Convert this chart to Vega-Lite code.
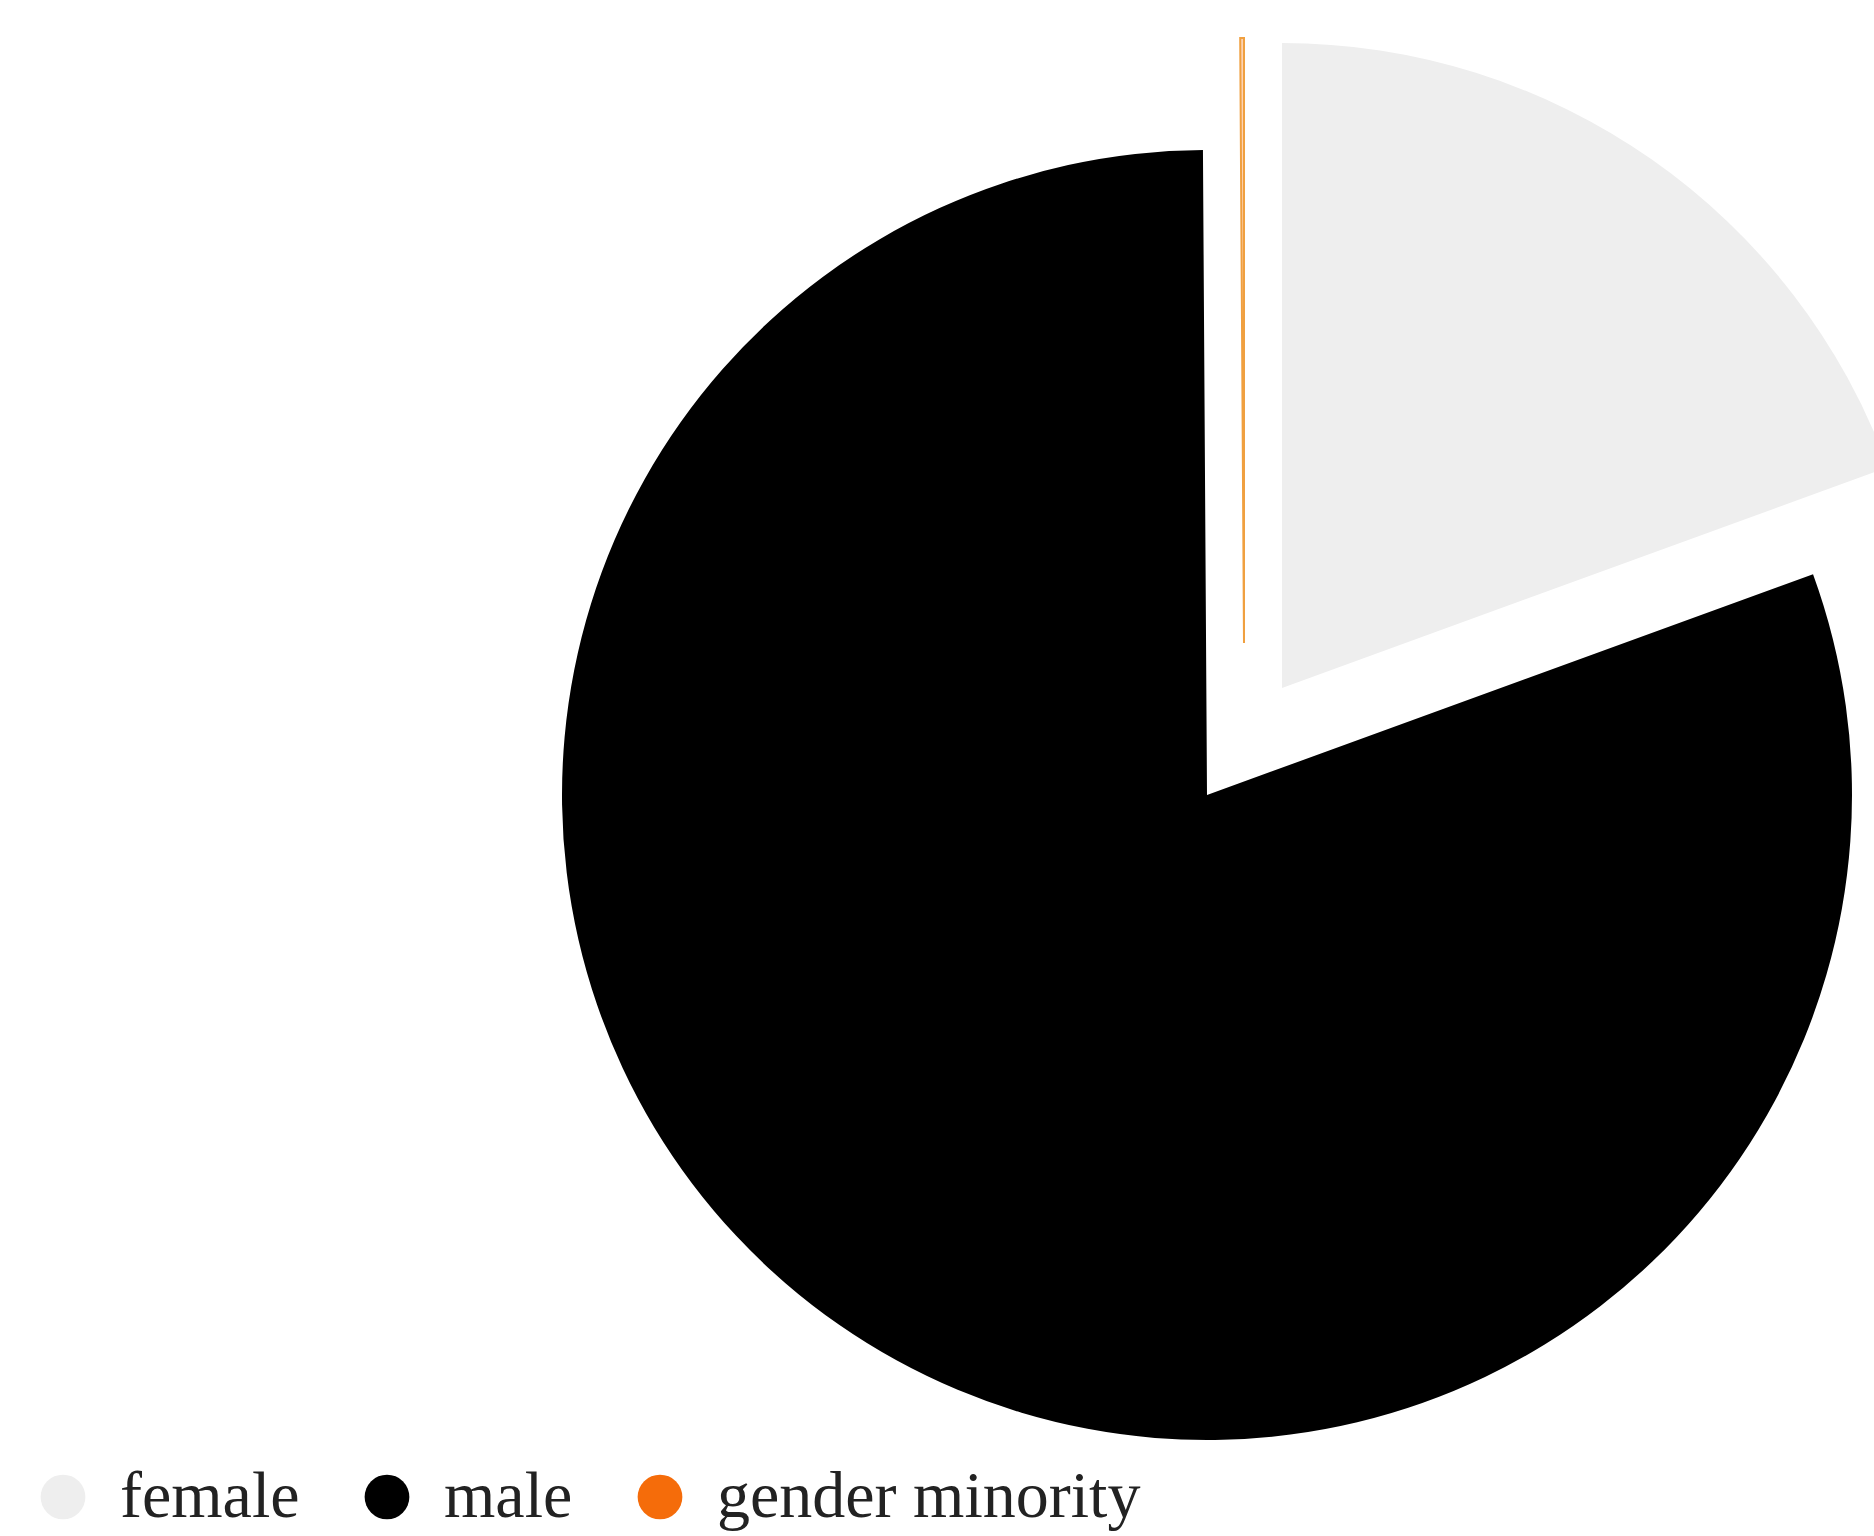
{
  "$schema": "https://vega.github.io/schema/vega-lite/v6.json",
  "width": 1334,
  "height": 1482,
  "padding": {"left": 540, "top": 54, "right": 0, "bottom": 0},
  "autosize": {"type": "none"},
  "background": "white",
  "config": {"view": {"stroke": null}},
  "data": {
    "values": [
      {"gender": "female", "share": 19.44, "order": 1},
      {"gender": "male", "share": 80.46, "order": 2},
      {"gender": "gender minority", "share": 0.1, "order": 3}
    ]
  },
  "transform": [
    {"stack": "share", "groupby": [], "sort": [{"field": "order", "order": "ascending"}], "as": ["s0", "s1"]}
  ],
  "encoding": {
    "theta": {"field": "s0", "type": "quantitative", "scale": {"domain": [0, 100]}},
    "theta2": {"field": "s1"},
    "color": {
      "field": "gender",
      "type": "nominal",
      "scale": {"domain": ["female", "male", "gender minority"], "range": ["#eeeeee", "#000000", "#f56c0a"]},
      "legend": {
        "title": null,
        "orient": "none",
        "direction": "horizontal",
        "legendX": -510,
        "legendY": 1410,
        "symbolType": "circle",
        "symbolSize": 2000,
        "symbolStrokeWidth": 0,
        "labelFont": "Liberation Serif",
        "labelFontSize": 66,
        "labelColor": "#222222",
        "labelOffset": 24,
        "columnPadding": 54,
        "labelLimit": 800
      }
    }
  },
  "layer": [
    {
      "transform": [{"filter": "datum.gender === 'male'"}],
      "mark": {"type": "arc", "outerRadius": 645}
    },
    {
      "transform": [{"filter": "datum.gender === 'female'"}],
      "mark": {"type": "arc", "outerRadius": 645, "xOffset": 75, "yOffset": -107}
    },
    {
      "transform": [{"filter": "datum.gender === 'gender minority'"}],
      "mark": {"type": "arc", "outerRadius": 605, "xOffset": 37, "yOffset": -152, "fillOpacity": 0.3, "stroke": "#f0a040", "strokeWidth": 2}
    }
  ]
}
